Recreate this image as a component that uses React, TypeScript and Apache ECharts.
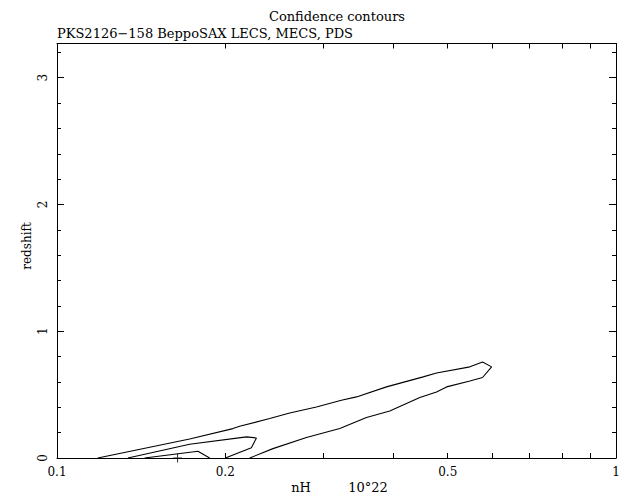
import React, { useEffect, useRef } from "react";
import * as echarts from "echarts";

const TITLE = "Confidence contours";
const SUBTITLE = "PKS2126\u2212158 BeppoSAX LECS, MECS, PDS";
const X_NAME = "nH";
const X_UNIT = "10\u00b022";
const Y_NAME = "redshift";

const X_TICK_VALUES = [0.1, 0.2, 0.3, 0.4, 0.5, 0.6, 0.7, 0.8, 0.9, 1];
const X_LABEL_VALUES = [0.1, 0.2, 0.5, 1];
const X_LABEL_TEXTS = ["0.1", "0.2", "0.5", "1"];
const Y_MIN = 0;
const Y_MAX = 3.27;
const Y_LABEL_VALUES = [0, 1, 2, 3];

// contour lines: [nH (1e22), redshift]
const OUTER_NH = [0.1183, 0.1727, 0.2064, 0.2122, 0.2402, 0.2608, 0.2911, 0.3227, 0.3433, 0.3885, 0.4519, 0.4775, 0.5478, 0.5772, 0.5991, 0.5772, 0.5478, 0.4977, 0.4775, 0.4457, 0.3938, 0.3578, 0.3205, 0.2794, 0.2434, 0.2212];
const OUTER_Z = [0, 0.150, 0.232, 0.250, 0.311, 0.355, 0.403, 0.456, 0.482, 0.561, 0.640, 0.671, 0.719, 0.758, 0.719, 0.635, 0.608, 0.561, 0.521, 0.477, 0.371, 0.319, 0.232, 0.161, 0.074, 0];
const MIDDLE_NH = [0.1339, 0.1727, 0.2183, 0.2274, 0.2227, 0.2001];
const MIDDLE_Z = [0, 0.108, 0.167, 0.158, 0.081, 0];
const INNER_NH = [0.1435, 0.1787, 0.1875];
const INNER_Z = [0, 0.053, 0];
const BEST_NH = [0.1643];
const BEST_Z = [0];

const FONT = "DejaVu Serif";

function pairs(xs: number[], ys: number[]) {
  return xs.map((x, i) => [Math.log10(x), ys[i]]);
}

export default function App() {
  const ref = useRef<HTMLDivElement>(null);
  useEffect(() => {
    if (!ref.current) return;
    const chart = echarts.init(ref.current, null, { renderer: "svg" });
    const tickVals = X_TICK_VALUES.map((v) => Math.log10(v));
    const labelVals = X_LABEL_VALUES.map((v) => Math.log10(v));
    const fmtX = (v: number) => {
      for (let i = 0; i < labelVals.length; i++) {
        if (Math.abs(labelVals[i] - v) < 1e-6) return X_LABEL_TEXTS[i];
      }
      return "";
    };
    const axisLine = { show: true, onZero: false, lineStyle: { color: "#000", width: 1 } };
    const xBase = {
      type: "value" as const,
      min: -1,
      max: 0,
      axisLine,
      splitLine: { show: false },
      axisTick: { show: true, inside: true, length: 5, customValues: tickVals, lineStyle: { color: "#000" } },
    };
    const yBase = {
      type: "value" as const,
      min: Y_MIN,
      max: Y_MAX,
      interval: 1,
      axisLine,
      splitLine: { show: false },
      axisTick: { show: true, inside: true, length: 7, lineStyle: { color: "#000" } },
      minorTick: { show: true, splitNumber: 5, length: 4, lineStyle: { color: "#000" } },
    };
    const lineStyle = { color: "#000", width: 1.1 };
    chart.setOption({
      animation: false,
      backgroundColor: "#fff",
      grid: { left: 57, right: 15, top: 43.5, bottom: 38, containLabel: false },
      xAxis: [
        {
          ...xBase,
          position: "bottom",
          axisLabel: {
            show: true,
            customValues: labelVals,
            formatter: fmtX,
            color: "#000",
            fontFamily: FONT,
            fontSize: 12,
            margin: 8,
          },
        },
        { ...xBase, position: "top", axisLabel: { show: false } },
      ],
      yAxis: [
        {
          ...yBase,
          position: "left",
          axisLabel: {
            show: true,
            customValues: Y_LABEL_VALUES,
            rotate: 90,
            color: "#000",
            fontFamily: FONT,
            fontSize: 12,
            margin: 8,
          },
        },
        { ...yBase, position: "right", axisLabel: { show: false } },
      ],
      graphic: [
        {
          type: "text",
          style: { text: TITLE, fill: "#000", font: `13px "${FONT}"`, x: 337, y: 16, textAlign: "center", textVerticalAlign: "middle" },
        },
        {
          type: "text",
          style: { text: SUBTITLE, fill: "#000", font: `13px "${FONT}"`, x: 57, y: 33, textAlign: "left", textVerticalAlign: "middle" },
        },
        {
          type: "text",
          x: 27,
          y: 246,
          rotation: Math.PI / 2,
          style: { text: Y_NAME, fill: "#000", font: `12px "${FONT}"`, x: 0, y: 0, textAlign: "center", textVerticalAlign: "middle" },
        },
        {
          type: "text",
          style: { text: X_NAME, fill: "#000", font: `13px "${FONT}"`, x: 301, y: 487, textAlign: "center", textVerticalAlign: "middle" },
        },
        {
          type: "text",
          style: { text: X_UNIT, fill: "#000", font: `13px "${FONT}"`, x: 368, y: 487, textAlign: "center", textVerticalAlign: "middle" },
        },
      ],
      series: [
        { type: "line", data: pairs(OUTER_NH, OUTER_Z), showSymbol: false, symbol: "none", lineStyle, clip: false, silent: true },
        { type: "line", data: pairs(MIDDLE_NH, MIDDLE_Z), showSymbol: false, symbol: "none", lineStyle, clip: false, silent: true },
        { type: "line", data: pairs(INNER_NH, INNER_Z), showSymbol: false, symbol: "none", lineStyle, clip: false, silent: true },
        {
          type: "scatter",
          data: pairs(BEST_NH, BEST_Z),
          symbol: "path://M4,0h1v4h4v1h-4v4h-1v-4h-4v-1h4z",
          symbolSize: 9,
          itemStyle: { color: "#000" },
          clip: false,
          silent: true,
        },
      ],
    });
    return () => chart.dispose();
  }, []);
  return <div ref={ref} style={{ position: "fixed", left: 0, top: 0, width: 631, height: 496 }} />;
}
